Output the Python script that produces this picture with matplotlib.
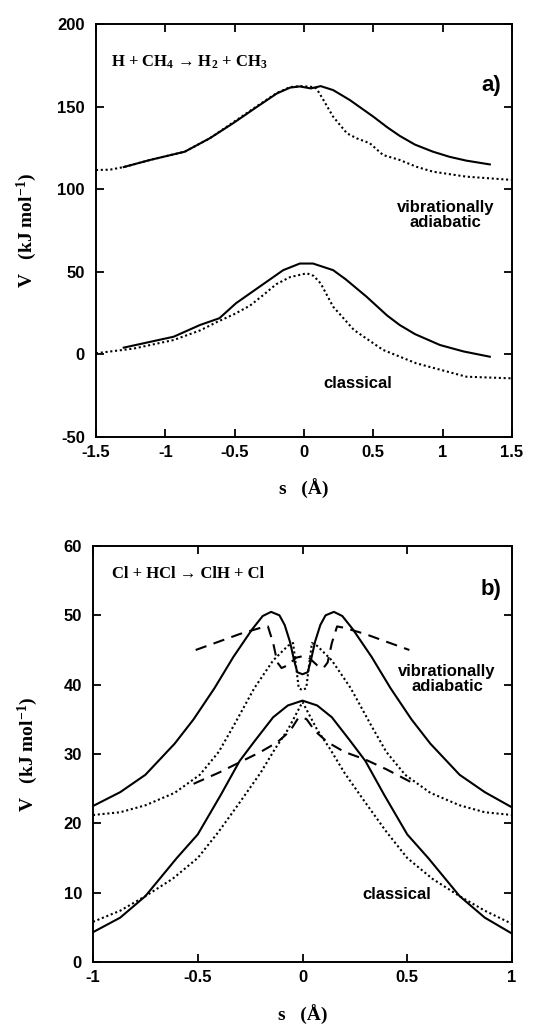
import matplotlib
matplotlib.use("Agg")
import matplotlib.pyplot as plt
from matplotlib.ticker import FormatStrFormatter

plt.rcParams['axes.unicode_minus'] = False
plt.rcParams['mathtext.fontset'] = 'custom'
plt.rcParams['mathtext.rm'] = 'Liberation Serif:bold'
plt.rcParams['mathtext.it'] = 'Liberation Serif:bold'
plt.rcParams['mathtext.bf'] = 'Liberation Serif:bold'
plt.rcParams['mathtext.default'] = 'rm'

SERIF = ['Liberation Serif', 'DejaVu Serif']
SANS = ['Liberation Sans', 'DejaVu Sans']

# --- a) H + CH4 -> H2 + CH3 ---
a_ad_x = [-1.30, -1.11, -0.86, -0.68, -0.51, -0.34, -0.195, -0.10, -0.03, 0.05, 0.12,
          0.21, 0.33, 0.50, 0.60, 0.69, 0.80, 0.93, 1.05, 1.17, 1.34]
a_ad_y = [113.4, 117.7, 122.7, 130.8, 140.0, 149.8, 158.0, 161.5, 162.2, 161.0, 162.4,
          160.0, 154.0, 143.9, 137.5, 132.3, 127.0, 122.7, 119.6, 117.3, 115.0]
a_ad_dot_x = [-1.5, -1.4, -1.30, -1.11, -0.86, -0.68, -0.51, -0.34, -0.195, -0.10, -0.03,
              0.05, 0.09, 0.14, 0.21, 0.31, 0.38, 0.475, 0.57, 0.69, 0.81, 0.93, 1.17, 1.5]
a_ad_dot_y = [111.6, 111.8, 113.4, 117.7, 122.7, 130.8, 140.5, 150.2, 158.3, 161.8, 162.4,
              162.0, 161.0, 154.0, 143.9, 133.8, 130.8, 127.8, 120.7, 117.7, 113.6, 110.6,
              107.6, 105.6]
a_cl_x = [-1.30, -0.94, -0.75, -0.61, -0.49, -0.32, -0.15, -0.03, 0.065, 0.21, 0.30,
          0.45, 0.60, 0.69, 0.80, 0.98, 1.15, 1.34]
a_cl_y = [4.1, 10.7, 17.8, 21.9, 31.0, 41.0, 51.0, 55.0, 55.0, 51.0, 45.5, 35.0, 23.5,
          17.8, 12.3, 5.7, 1.8, -1.4]
a_cl_dot_x = [-1.5, -1.23, -0.94, -0.75, -0.63, -0.5, -0.39, -0.30, -0.20, -0.10, 0.02,
              0.07, 0.12, 0.21, 0.36, 0.57, 0.81, 1.17, 1.5]
a_cl_dot_y = [0.7, 3.5, 8.7, 14.5, 19.5, 24.5, 29.5, 35.5, 42.5, 46.8, 49.1, 47.5, 43.0,
              28.9, 14.8, 2.7, -5.4, -13.5, -14.5]

# --- b) Cl + HCl -> ClH + Cl ---
b_ad_x = [-1.0, -0.87, -0.75, -0.61, -0.52, -0.42, -0.33, -0.24, -0.19, -0.15, -0.11,
          -0.085, -0.06, -0.04, -0.025, 0.0, 0.025, 0.04, 0.06, 0.085, 0.11, 0.15, 0.19,
          0.24, 0.33, 0.42, 0.52, 0.61, 0.75, 0.87, 1.0]
b_ad_y = [22.5, 24.5, 27.0, 31.5, 35.0, 39.5, 44.0, 48.0, 49.9, 50.5, 50.0, 48.6, 46.2,
          43.5, 41.8, 41.5, 41.8, 43.5, 46.2, 48.6, 50.0, 50.5, 49.9, 48.0, 44.0, 39.5,
          35.0, 31.5, 27.0, 24.5, 22.3]
b_ad_dot_x = [-1.0, -0.87, -0.75, -0.61, -0.49, -0.4, -0.33, -0.23, -0.14, -0.07, -0.045,
              -0.03, -0.018, 0.0, 0.018, 0.03, 0.045, 0.07, 0.14, 0.23, 0.33, 0.4, 0.49,
              0.61, 0.75, 0.87, 1.0]
b_ad_dot_y = [21.2, 21.6, 22.6, 24.4, 27.0, 30.3, 34.0, 39.5, 43.5, 45.6, 46.0, 42.5, 39.5,
              39.2, 39.5, 42.5, 46.0, 45.6, 43.5, 39.5, 34.0, 30.3, 27.0, 24.4, 22.6, 21.6,
              21.2]
b_ad_dash_x = [-0.51, -0.4, -0.3, -0.2, -0.165, -0.14, -0.12, -0.1, -0.07, -0.03, 0.0,
               0.03, 0.07, 0.1, 0.12, 0.14, 0.165, 0.2, 0.3, 0.4, 0.51]
b_ad_dash_y = [45.0, 46.2, 47.3, 48.2, 48.4, 46.0, 43.2, 42.4, 42.8, 43.9, 44.1, 43.9,
               42.8, 42.4, 43.2, 46.0, 48.4, 48.2, 47.3, 46.2, 45.0]
b_cl_x = [-1.0, -0.87, -0.75, -0.6, -0.5, -0.39, -0.3, -0.225, -0.14, -0.07, 0.0, 0.07,
          0.14, 0.225, 0.3, 0.39, 0.5, 0.6, 0.75, 0.87, 1.0]
b_cl_y = [4.3, 6.4, 9.5, 15.0, 18.4, 24.1, 29.0, 32.0, 35.3, 37.0, 37.7, 37.0, 35.3, 32.0,
          29.0, 24.1, 18.4, 15.0, 9.5, 6.4, 4.1]
b_cl_dot_x = [-1.0, -0.87, -0.75, -0.62, -0.5, -0.4, -0.3, -0.2, -0.13, -0.07, 0.0, 0.07,
              0.13, 0.2, 0.3, 0.4, 0.5, 0.62, 0.75, 0.87, 1.0]
b_cl_dot_y = [5.8, 7.4, 9.5, 12.0, 15.0, 18.8, 23.0, 27.3, 30.8, 33.5, 37.5, 33.5, 30.8,
              27.3, 23.0, 18.8, 15.0, 12.0, 9.5, 7.4, 5.5]
b_cl_dash_x = [-0.52, -0.4, -0.3, -0.2, -0.12, -0.06, -0.02, 0.0, 0.02, 0.06, 0.12, 0.2,
               0.3, 0.4, 0.54]
b_cl_dash_y = [25.7, 27.3, 28.8, 30.3, 31.7, 33.3, 35.2, 35.3, 35.0, 33.3, 31.7, 30.3,
               29.2, 27.8, 25.6]

SOLID = dict(color='black', lw=1.5, ls='-')
DOTTED = dict(color='black', lw=1.5, ls=(0, (1.0, 1.3)))
DASHED = dict(color='black', lw=1.5, ls=(0, (5.5, 3.6)))


def style_axes(ax, xticks, yticks):
    ax.set_xticks(xticks)
    ax.set_yticks(yticks)
    ax.xaxis.set_major_formatter(FormatStrFormatter('%g'))
    ax.yaxis.set_major_formatter(FormatStrFormatter('%g'))
    ax.tick_params(direction='in', length=6, width=1.3, top=True, right=True)
    ax.tick_params(axis='x', pad=6)
    ax.tick_params(axis='y', pad=8)
    for lab in ax.get_xticklabels() + ax.get_yticklabels():
        lab.set_fontfamily(SANS)
        lab.set_fontweight('bold')
        lab.set_fontsize(12)
    for sp in ax.spines.values():
        sp.set_linewidth(1.4)


fig = plt.figure(figsize=(5.43, 10.26), dpi=100)

# panel a
ax1 = fig.add_axes([96 / 543, 1 - 437 / 1026, 416 / 543, 413 / 1026])
ax1.plot(a_ad_dot_x, a_ad_dot_y, **DOTTED)
ax1.plot(a_ad_x, a_ad_y, **SOLID)
ax1.plot(a_cl_dot_x, a_cl_dot_y, **DOTTED)
ax1.plot(a_cl_x, a_cl_y, **SOLID)
ax1.set_xlim(-1.5, 1.5)
ax1.set_ylim(-50, 200)
style_axes(ax1, [-1.5, -1, -0.5, 0, 0.5, 1, 1.5], [-50, 0, 50, 100, 150, 200])
ax1.text(-1.39, 177, r"H + CH$_{4}$ → H$_{2}$ + CH$_{3}$", family=SERIF,
         fontweight='bold', fontsize=12, va='center')
ax1.text(1.42, 163, "a)", family=SANS, fontweight='bold', fontsize=16,
         ha='right', va='center')
ax1.text(1.02, 84.5, "vibrationally\nadiabatic", family=SANS, fontweight='bold',
         fontsize=12, ha='center', va='center', linespacing=0.95)
ax1.text(0.385, -17.5, "classical", family=SANS, fontweight='bold', fontsize=12,
         ha='center', va='center')
ax1.set_xlabel("s   (Å)", family=SERIF, fontweight='bold', fontsize=14, va='center')
ax1.xaxis.set_label_coords(0.5, -0.125)
ax1.set_ylabel(r"V   (kJ mol$^{-1}$)", family=SERIF, fontweight='bold', fontsize=14,
               va='center')
ax1.yaxis.set_label_coords(-0.166, 0.5)

# panel b
ax2 = fig.add_axes([93 / 543, 1 - 962 / 1026, 419 / 543, 416 / 1026])
ax2.plot(b_ad_dot_x, b_ad_dot_y, **DOTTED)
ax2.plot(b_ad_dash_x, b_ad_dash_y, **DASHED)
ax2.plot(b_ad_x, b_ad_y, **SOLID)
ax2.plot(b_cl_dot_x, b_cl_dot_y, **DOTTED)
ax2.plot(b_cl_dash_x, b_cl_dash_y, **DASHED)
ax2.plot(b_cl_x, b_cl_y, **SOLID)
ax2.set_xlim(-1, 1)
ax2.set_ylim(0, 60)
style_axes(ax2, [-1, -0.5, 0, 0.5, 1], [0, 10, 20, 30, 40, 50, 60])
ax2.text(-0.91, 56, "Cl + HCl → ClH + Cl", family=SERIF, fontweight='bold',
         fontsize=12, va='center')
ax2.text(0.95, 53.7, "b)", family=SANS, fontweight='bold', fontsize=16,
         ha='right', va='center')
ax2.text(0.69, 40.8, "vibrationally\nadiabatic", family=SANS, fontweight='bold',
         fontsize=12, ha='center', va='center', linespacing=0.95)
ax2.text(0.45, 9.8, "classical", family=SANS, fontweight='bold', fontsize=12,
         ha='center', va='center')
ax2.set_xlabel("s   (Å)", family=SERIF, fontweight='bold', fontsize=14, va='center')
ax2.xaxis.set_label_coords(0.5, -0.127)
ax2.set_ylabel(r"V   (kJ mol$^{-1}$)", family=SERIF, fontweight='bold', fontsize=14,
               va='center')
ax2.yaxis.set_label_coords(-0.156, 0.5)

fig.savefig("out.png", dpi=100)
